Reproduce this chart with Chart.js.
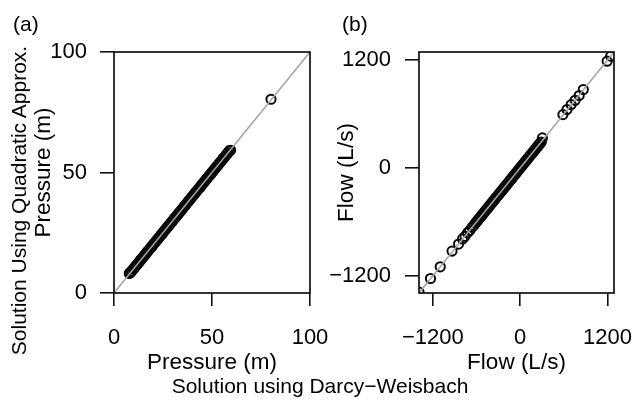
<!DOCTYPE html>
<html><head><meta charset="utf-8">
<script src="https://cdn.jsdelivr.net/npm/chart.js@4"></script>
<style>
html,body{margin:0;padding:0;background:#fff;}
#wrap{position:relative;width:634px;height:401px;overflow:hidden;font-family:"Liberation Sans",Arial,sans-serif;}
.cv{position:absolute;top:0;height:401px;}
.lbl{position:absolute;font-size:21px;color:#000;white-space:nowrap;line-height:22px;height:22px;}
</style></head><body>
<div id="wrap">
  <div class="cv" style="left:317px;width:317px"><canvas id="cb" width="317" height="401"></canvas></div>
  <div class="cv" style="left:0;width:345px"><canvas id="ca" width="345" height="401"></canvas></div>
  <div class="lbl" style="left:13px;top:13px">(a)</div>
  <div class="lbl" style="left:342px;top:13px">(b)</div>
  <div class="lbl" id="ytitle" style="left:0;top:0;width:401px;text-align:center;transform-origin:0 0;transform:translate(8px,401px) rotate(-90deg);">Solution Using Quadratic Approx.</div>
  <div class="lbl" id="xtitle" style="left:3px;top:375px;width:634px;text-align:center;">Solution using Darcy−Weisbach</div>
</div>
<script>
// ---- data: panel (a) pressures (m)
const pressureDW = [7.8, 8.3, 8.7, 9.2, 9.8, 10.2, 10.7, 11.3, 11.8, 12.2, 12.7, 13.3, 13.7, 14.2, 14.8, 15.3, 15.7, 16.2, 16.8, 17.2, 17.7, 18.3, 18.8, 19.2, 19.7, 20.3, 20.7, 21.2, 21.8, 22.3, 22.7, 23.2, 23.8, 24.2, 24.7, 25.3, 25.8, 26.2, 26.7, 27.3, 27.7, 28.2, 28.8, 29.3, 29.7, 30.2, 30.8, 31.2, 31.7, 32.3, 32.8, 33.2, 33.7, 34.3, 34.7, 35.2, 35.8, 36.3, 36.7, 37.2, 37.8, 38.2, 38.7, 39.3, 39.8, 40.2, 40.7, 41.3, 41.7, 42.2, 42.8, 43.3, 43.7, 44.2, 44.8, 45.2, 45.7, 46.3, 46.8, 47.2, 47.7, 48.3, 48.7, 49.2, 49.8, 50.3, 50.7, 51.2, 51.8, 52.2, 52.7, 53.3, 53.8, 54.2, 54.7, 55.3, 55.7, 56.2, 56.8, 57.3, 57.7, 58.2, 58.8, 59.1, 59.5, 80.1];
const pressureQA = [8.1, 8.4, 8.8, 9.2, 9.9, 10.3, 10.7, 11.4, 11.8, 12.3, 12.7, 13.4, 13.8, 14.2, 14.9, 15.3, 15.8, 16.2, 16.9, 17.3, 17.7, 18.4, 18.8, 19.3, 19.7, 20.4, 20.8, 21.2, 21.9, 22.3, 22.8, 23.2, 23.9, 24.3, 24.7, 25.4, 25.8, 26.3, 26.7, 27.4, 27.8, 28.2, 28.9, 29.3, 29.8, 30.2, 30.9, 31.3, 31.7, 32.4, 32.8, 33.3, 33.7, 34.4, 34.8, 35.2, 35.9, 36.3, 36.8, 37.2, 37.9, 38.3, 38.7, 39.4, 39.8, 40.3, 40.7, 41.4, 41.8, 42.2, 42.9, 43.3, 43.8, 44.2, 44.9, 45.3, 45.7, 46.4, 46.8, 47.3, 47.7, 48.4, 48.8, 49.2, 49.9, 50.3, 50.8, 51.2, 51.9, 52.3, 52.7, 53.4, 53.8, 54.3, 54.7, 55.4, 55.8, 56.2, 56.9, 57.3, 57.8, 58.2, 58.9, 59.1, 59.2, 80.4];
const pressureRange = [0, 100];
const pressureTicks = [0, 50, 100];

// ---- data: panel (b) flows (L/s)
const flowDW = [-1390, -1232, -1098, -936, -846, -792, -758, -724, -693, -662, -636, -611, -596, -583, -569, -557, -544, -530, -518, -503, -491, -479, -464, -452, -440, -425, -413, -401, -386, -375, -361, -349, -334, -323, -308, -297, -284, -269, -258, -243, -231, -219, -204, -193, -178, -167, -153, -141, -126, -115, -100, -89, -74, -63, -49, -37, -22, -11, 4, 15, 29, 41, 56, 67, 82, 93, 107, 119, 134, 145, 159, 171, 186, 197, 211, 223, 238, 249, 263, 276, 291, 306, 588, 644, 701, 756, 811, 868, 1196, 1244];
const flowQA = [-1380, -1229, -1099, -924, -846, -789, -760, -721, -695, -660, -638, -608, -598, -580, -571, -555, -546, -528, -520, -501, -493, -477, -466, -450, -442, -423, -415, -399, -388, -373, -363, -347, -336, -321, -310, -295, -286, -267, -260, -241, -233, -217, -206, -191, -180, -165, -155, -139, -128, -113, -102, -87, -76, -61, -51, -35, -24, -9, 2, 17, 27, 43, 54, 69, 80, 95, 105, 121, 132, 147, 157, 173, 184, 199, 209, 225, 236, 251, 261, 278, 289, 334, 594, 650, 705, 753, 806, 873, 1188, 1244];
const flowRange = [-1390, 1290];
const flowTicks = [-1200, 0, 1200];

const TICKFONT = {family: '"Liberation Sans", Arial, sans-serif', size: 22};
const TITLEFONT = {family: '"Liberation Sans", Arial, sans-serif', size: 22.5};
const INK = '#000';

const boxPlugin = {
  id: 'box',
  afterDraw(chart) {
    const a = chart.chartArea, c = chart.ctx;
    c.save();
    c.strokeStyle = '#111'; c.lineWidth = 1.7;
    c.strokeRect(a.left, a.top, a.right - a.left, a.bottom - a.top);
    c.restore();
  }
};

function pairs(xs, ys) { return xs.map((x, i) => ({x: x, y: ys[i]})); }
function fmt(v) { return String(v).replace('-', '\u2212'); }

function makeChart(id, xs, ys, range, ticks, title, yAxisW, yTitlePad, yTickPad, rightPad) {
  const axis = (isX) => ({
    type: 'linear',
    min: range[0], max: range[1],
    afterBuildTicks: s => { s.ticks = ticks.map(v => ({value: v})); },
    afterFit: s => {
      if (isX) s.height = 108; else s.width = yAxisW;
      s.paddingLeft = 0; s.paddingRight = 0; s.paddingTop = 0; s.paddingBottom = 0;
    },
    ticks: {font: TICKFONT, color: INK, padding: isX ? 19 : yTickPad, maxRotation: 0, autoSkip: false, callback: v => fmt(v)},
    grid: {drawOnChartArea: false, drawTicks: true, tickLength: isX ? 13 : 14, color: '#111', lineWidth: 1.6},
    border: {display: false},
    title: {display: true, text: title, font: TITLEFONT, color: INK,
            padding: isX ? {top: 0, bottom: 25} : {top: yTitlePad, bottom: 0}}
  });
  return new Chart(document.getElementById(id), {
    type: 'scatter',
    data: {datasets: [
      {type: 'scatter', data: pairs(xs, ys), pointStyle: 'circle', pointRadius: 4.6,
       pointBorderWidth: 2, pointBorderColor: '#0a0a0a', pointBackgroundColor: 'rgba(0,0,0,0)',
       borderColor: INK, backgroundColor: 'rgba(0,0,0,0)', clip: 0, order: 1},
      {type: 'line', data: pairs(range, range), showLine: true, pointRadius: 0,
       borderColor: '#a3a3a3', borderWidth: 1.5, fill: false, clip: 0, order: 0}
    ]},
    options: {
      responsive: false, animation: false, devicePixelRatio: 1,
      layout: {padding: {left: 0, top: 52, right: rightPad, bottom: 0}},
      plugins: {legend: {display: false}, tooltip: {enabled: false}},
      scales: {x: axis(true), y: axis(false)}
    },
    plugins: [boxPlugin]
  });
}

makeChart('ca', pressureDW, pressureQA, pressureRange, pressureTicks, 'Pressure (m)', 114, 30.5, 13, 35);
makeChart('cb', flowDW, flowQA, flowRange, flowTicks, 'Flow (L/s)', 102, 16.5, 14, 20);
</script>
</body></html>
